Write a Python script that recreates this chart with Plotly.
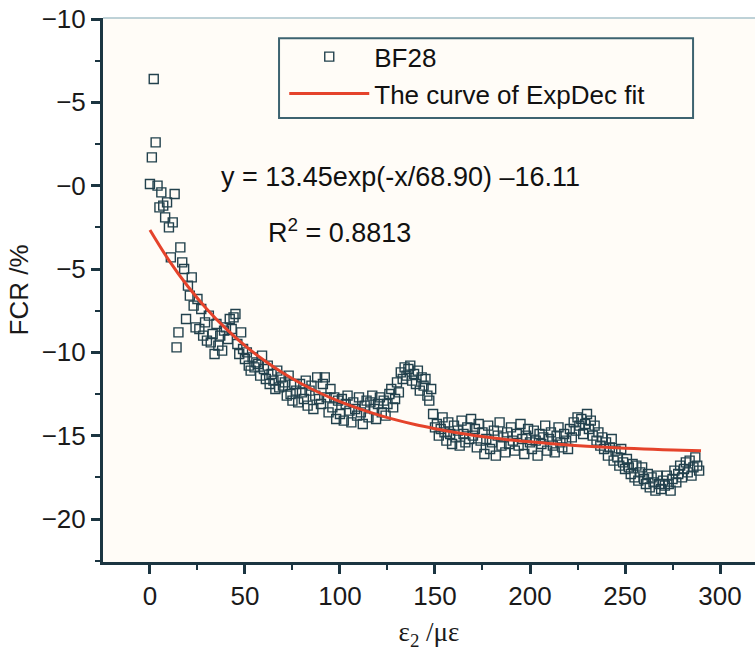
import plotly.graph_objects as go

# ---- data ----
strain_x = [
    0, 1, 2, 3, 4, 5, 6, 7, 8, 9,
    10, 11, 12, 13, 14, 15, 16, 17, 18, 19,
    20, 21, 22, 23, 24, 25, 26, 27, 28, 29,
    30, 31, 32, 33, 34, 35, 36, 37, 38, 39,
    40, 41, 42, 43, 44, 45, 46, 47, 48, 49,
    50, 51, 52, 53, 54, 55, 56, 57, 58, 59,
    60, 61, 62, 63, 64, 65, 66, 67, 68, 69,
    70, 71, 72, 73, 74, 75, 76, 77, 78, 79,
    80, 81, 82, 83, 84, 85, 86, 87, 88, 89,
    90, 91, 92, 93, 94, 95, 96, 97, 98, 99,
    100, 101, 102, 103, 104, 105, 106, 107, 108, 109,
    110, 111, 112, 113, 114, 115, 116, 117, 118, 119,
    120, 121, 122, 123, 124, 125, 126, 127, 128, 129,
    130, 131, 132, 133, 134, 135, 136, 137, 138, 139,
    140, 141, 142, 143, 144, 145, 146, 147, 148, 149,
    150, 151, 152, 153, 154, 155, 156, 157, 158, 159,
    160, 161, 162, 163, 164, 165, 166, 167, 168, 169,
    170, 171, 172, 173, 174, 175, 176, 177, 178, 179,
    180, 181, 182, 183, 184, 185, 186, 187, 188, 189,
    190, 191, 192, 193, 194, 195, 196, 197, 198, 199,
    200, 201, 202, 203, 204, 205, 206, 207, 208, 209,
    210, 211, 212, 213, 214, 215, 216, 217, 218, 219,
    220, 221, 222, 223, 224, 225, 226, 227, 228, 229,
    230, 231, 232, 233, 234, 235, 236, 237, 238, 239,
    240, 241, 242, 243, 244, 245, 246, 247, 248, 249,
    250, 251, 252, 253, 254, 255, 256, 257, 258, 259,
    260, 261, 262, 263, 264, 265, 266, 267, 268, 269,
    270, 271, 272, 273, 274, 275, 276, 277, 278, 279,
    280, 281, 282, 283, 284, 285, 286, 287, 288, 289,
]
fcr_y = [
    0.1, 1.7, 6.4, 2.6, 0.0, -1.3, -0.4, -1.2, -1.9, -1.0,
    -2.5, -4.3, -2.2, -0.5, -9.7, -8.8, -3.7, -4.6, -5.0, -8.0,
    -6.0, -6.6, -5.5, -7.2, -8.5, -6.8, -8.6, -7.4, -9.0, -8.2,
    -9.3, -7.8, -9.4, -8.9, -10.1, -8.3, -9.6, -9.0, -9.9, -8.7,
    -8.5, -9.2, -8.0, -8.6, -7.9, -7.7, -9.5, -10.1, -8.8, -9.8,
    -10.4, -10.0, -10.8, -11.1, -10.3, -10.9, -10.6, -10.7, -11.4, -10.2,
    -11.0, -11.6, -10.8, -11.9, -11.3, -11.7, -12.2, -11.1, -12.1, -11.5,
    -12.0, -11.8, -12.6, -11.4, -12.5, -12.9, -11.9, -12.3, -13.0, -11.9,
    -12.4, -12.8, -11.7, -13.2, -12.3, -12.0, -13.4, -12.6, -11.5, -12.8,
    -13.1, -11.9, -11.5, -12.7, -13.6, -12.2, -13.3, -12.7, -14.0, -12.9,
    -13.7, -12.8, -14.1, -13.1, -12.6, -13.5, -14.2, -13.0, -13.4, -13.8,
    -12.7, -13.6, -14.3, -13.2, -12.9, -13.9, -13.0, -12.6, -13.4, -14.0,
    -13.1, -12.7, -13.6, -12.9, -13.8, -13.1, -12.5, -12.2, -13.3, -12.8,
    -11.8, -12.4, -11.2, -11.6, -10.9, -11.4, -11.0, -10.8, -11.7, -11.3,
    -11.9, -11.1, -12.3, -11.5, -12.0, -11.6, -12.6, -12.9, -12.2, -13.7,
    -14.5, -14.3, -15.0, -14.6, -13.9, -14.8, -15.3, -14.2, -14.9, -15.5,
    -14.4, -15.1, -14.7, -15.6, -14.1, -14.9, -15.4, -14.5, -15.2, -14.0,
    -15.0, -14.6, -15.7, -14.3, -15.3, -14.8, -16.1, -15.2, -14.4, -15.8,
    -15.4, -14.7, -16.2, -15.0, -14.2, -15.6, -15.1, -16.0, -14.8, -15.5,
    -14.5, -15.3, -15.9, -14.9, -15.6, -14.3, -15.2, -16.1, -15.0, -14.6,
    -15.4, -15.8, -14.7, -15.3, -16.2, -14.9, -15.5, -15.1, -14.4, -15.9,
    -15.2, -14.8, -15.6, -16.0, -15.0, -14.5, -15.4, -15.7, -14.9, -15.3,
    -15.8, -14.6, -15.1, -14.2, -14.7, -13.9, -14.4, -14.0, -14.9, -14.3,
    -13.7, -14.6, -14.1, -15.0, -14.4, -15.3, -14.8, -15.6, -15.1, -15.8,
    -15.4, -16.2, -15.7, -15.2, -16.5, -15.9, -16.3, -16.8, -15.8, -16.6,
    -17.0, -16.4, -16.9, -17.3, -16.7, -17.5, -16.8, -17.7, -17.2, -16.9,
    -17.6, -17.9, -17.3, -18.1, -17.5, -17.8, -18.3, -17.4, -17.9, -18.2,
    -17.7, -18.0, -17.4, -17.9, -18.3, -17.6, -17.1, -17.8, -17.3, -16.8,
    -17.5, -17.0, -16.6, -17.2, -16.5, -17.4, -16.9, -16.3, -16.8, -17.1,
]

fit_x = [0, 10, 20, 30, 40, 50, 60, 70, 80, 90, 100, 110, 120, 130, 140,
         150, 160, 170, 180, 190, 200, 210, 220, 230, 240, 250, 260, 270, 280, 290]
fit_y = [-2.66, -4.48, -6.05, -7.41, -8.58, -9.60, -10.48, -11.24, -11.90, -12.47,
         -12.96, -13.38, -13.75, -14.07, -14.35, -14.58, -14.79, -14.97, -15.12, -15.26,
         -15.37, -15.47, -15.56, -15.63, -15.70, -15.75, -15.80, -15.84, -15.88, -15.91]

x_tick_vals = [0, 50, 100, 150, 200, 250, 300]
x_tick_text = ["0", "50", "100", "150", "200", "250", "300"]
y_tick_vals = [10, 5, 0, -5, -10, -15, -20]
y_tick_text = ["\u221210", "\u22125", "\u22120", "\u22125", "\u221210", "\u221215", "\u221220"]

series_name = "BF28"
fit_name = "The curve of ExpDec fit"
equation_text = "y = 13.45exp(-x/68.90) \u201316.11"
r2_text = "R<sup>2</sup> = 0.8813"

AX = "#1b3541"
BG = "#fffcf7"
FONT = "Liberation Sans, Arial, sans-serif"
FS = 26

fig = go.Figure()
fig.add_trace(go.Scatter(
    x=strain_x, y=fcr_y, mode="markers", name=series_name,
    marker=dict(symbol="square-open", size=9, color="#22414d",
                line=dict(width=1.4, color="#22414d")),
))
fig.add_trace(go.Scatter(
    x=fit_x, y=fit_y, mode="lines", name=fit_name,
    line=dict(color="#e5432b", width=3, shape="spline"),
))

fig.add_annotation(x=131.6, y=0.5, xref="x", yref="y", text=equation_text,
                   showarrow=False, xanchor="center", yanchor="middle",
                   font=dict(family=FONT, size=27, color="#111111"))
fig.add_annotation(x=99.5, y=-2.7, xref="x", yref="y", text=r2_text,
                   showarrow=False, xanchor="center", yanchor="middle",
                   font=dict(family=FONT, size=27, color="#111111"))

# thin top frame line
fig.add_shape(type="line", xref="paper", yref="paper", x0=0, x1=1, y0=1, y1=1,
              line=dict(color="#a8c3cb", width=1.5))
# legend frame
fig.add_shape(type="rect", xref="paper", yref="paper", x0=0.270, x1=0.905, y0=0.816, y1=0.963,
              line=dict(color="#3d6370", width=2), fillcolor=BG, layer="above")

fig.update_layout(
    width=755, height=651,
    margin=dict(l=103, r=0, t=18, b=89),
    paper_bgcolor="white",
    plot_bgcolor=BG,
    font=dict(family=FONT, size=FS, color="#1a1a1a"),
    showlegend=True,
    legend=dict(
        x=0.278, y=0.972, xanchor="left", yanchor="top",
        bgcolor="rgba(0,0,0,0)", borderwidth=0,
        font=dict(family=FONT, size=FS, color="#111111"),
        itemwidth=80, tracegroupgap=0,
    ),
    xaxis=dict(
        range=[-24.7, 318.4], automargin=False,
        tickvals=x_tick_vals, ticktext=x_tick_text,
        ticks="outside", ticklen=9, tickwidth=2.5, tickcolor=AX,
        minor=dict(dtick=25, tick0=0, ticks="outside", ticklen=5, tickwidth=2, tickcolor=AX),
        showline=True, linewidth=3, linecolor=AX,
        showgrid=False, zeroline=False, ticklabeloverflow="allow",
        tickfont=dict(family=FONT, size=FS, color="#1a1a1a"),
        title=dict(text="\u03b5<sub>2</sub> /\u03bc\u03b5",
                   font=dict(family="Liberation Serif, Times New Roman, serif", size=27, color="#1a1a1a")),
    ),
    yaxis=dict(
        range=[-22.58, 10.06], automargin=False,
        tickvals=y_tick_vals, ticktext=y_tick_text,
        ticks="outside", ticklen=9, tickwidth=2.5, tickcolor=AX,
        minor=dict(dtick=2.5, tick0=0, ticks="outside", ticklen=5, tickwidth=2, tickcolor=AX),
        showline=True, linewidth=3, linecolor=AX,
        showgrid=False, zeroline=False, ticklabeloverflow="allow",
        tickfont=dict(family=FONT, size=FS, color="#1a1a1a"),
        title=dict(text="FCR /%", font=dict(family=FONT, size=FS, color="#1a1a1a"), standoff=6),
    ),
)

# remove the default 8 px page margin so the 755x651 figure fills the window exactly
fig.write_html("out.html",
               config={"displayModeBar": False},
               post_script="document.body.style.margin='0px';document.body.style.overflow='hidden';")
